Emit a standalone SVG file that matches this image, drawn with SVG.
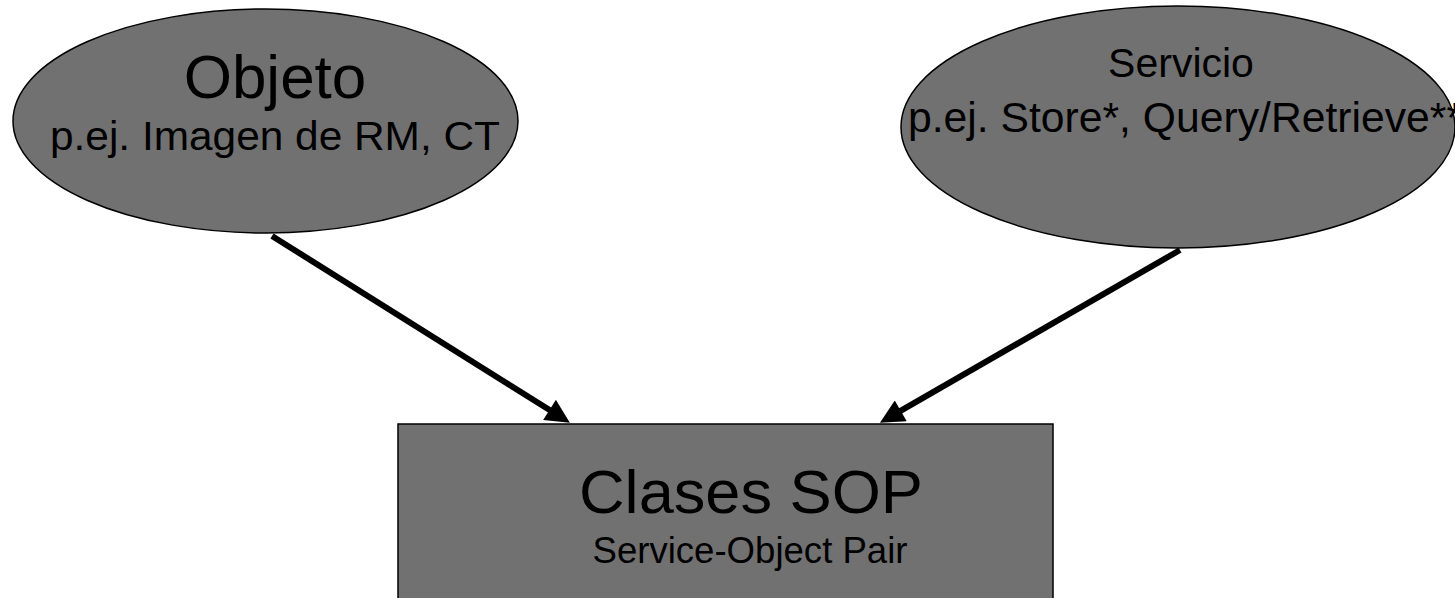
<svg xmlns="http://www.w3.org/2000/svg" width="1455" height="598" viewBox="0 0 1455 598">
<style>
.shape{fill:#717171;stroke:#000;stroke-width:1.5}
.t{font-family:"Liberation Sans",Arial,sans-serif;fill:#000;text-anchor:middle}
.conn{stroke:#000;stroke-width:6;fill:none}
</style>
<defs>
<marker id="ah" viewBox="0 0 10 10" refX="2" refY="5" markerWidth="26" markerHeight="24" markerUnits="userSpaceOnUse" orient="auto">
<path d="M0,0 L10,5 L0,10 z" fill="#000"/>
</marker>
</defs>
<rect width="1455" height="598" fill="#fff"/>
<g id="objeto">
<ellipse class="shape" cx="265.5" cy="121" rx="252.5" ry="112"/>
<text class="t" x="275" y="98" font-size="62">Objeto</text>
<text class="t" x="275" y="150" font-size="41" textLength="450" lengthAdjust="spacingAndGlyphs">p.ej. Imagen de RM, CT</text>
</g>
<g id="servicio">
<ellipse class="shape" cx="1178" cy="127" rx="277" ry="121"/>
<text class="t" x="1181" y="77" font-size="41">Servicio</text>
<text class="t" x="908" y="132" font-size="42" style="text-anchor:start" textLength="555" lengthAdjust="spacingAndGlyphs">p.ej. Store*, Query/Retrieve**</text>
</g>
<g id="sop">
<rect class="shape" x="398" y="424" width="655" height="190"/>
<text class="t" x="751" y="513" font-size="62" textLength="344" lengthAdjust="spacingAndGlyphs">Clases SOP</text>
<text class="t" x="750" y="563" font-size="36" textLength="315" lengthAdjust="spacingAndGlyphs">Service-Object Pair</text>
</g>
<g id="connectors">
<line class="conn" x1="272" y1="236" x2="553.6" y2="412.5" marker-end="url(#ah)"/>
<line class="conn" x1="1180" y1="250" x2="896.6" y2="413.2" marker-end="url(#ah)"/>
</g>
</svg>
